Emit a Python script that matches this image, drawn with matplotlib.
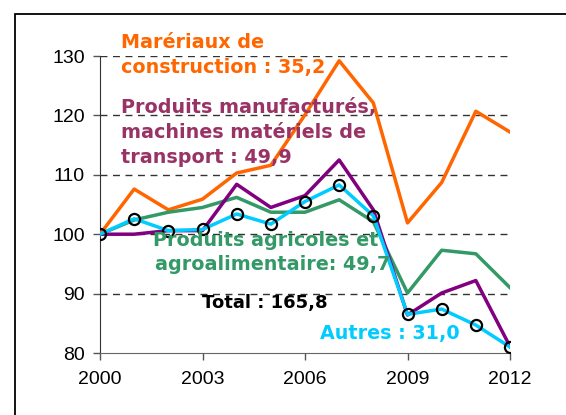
import numpy as np
import matplotlib
matplotlib.use('Agg')
import matplotlib.pyplot as plt
from matplotlib.patches import Rectangle

plt.rcParams['font.family'] = ['Liberation Sans', 'DejaVu Sans']

# data (index, 2000 = 100)
years = list(range(2000, 2013))
materiaux = [100, 107.6, 104.1, 105.9, 110.3, 111.6, 120.1, 129.2, 122.1, 101.9, 108.7, 120.7, 117.2]
manufactures = [100, 100, 100.6, 100.6, 108.4, 104.5, 106.5, 112.5, 104.1, 86.4, 90.1, 92.2, 81.1]
agricoles = [100, 102.4, 103.7, 104.5, 106.2, 103.7, 103.7, 105.8, 102.1, 90.1, 97.3, 96.7, 91.0]
autres = [100, 102.6, 100.6, 100.8, 103.4, 101.7, 105.5, 108.3, 103.1, 86.5, 87.4, 84.7, 81.0]
total = [100, 102.6, 100.6, 100.8, 103.4, 101.7, 105.5, 108.3, 103.1, 86.5, 87.4, 84.7, 81.0]

xticks = [2000, 2003, 2006, 2009, 2012]
yticks = [80, 90, 100, 110, 120, 130]

fig = plt.figure(figsize=(5.66, 4.15), dpi=100)
ax = fig.add_axes([100/566, 1-353/415, 410/566, 297/415])

# frame around the chart
fig.patches.append(Rectangle((15/566, -0.2), 1.2, 1.2 - 14/415,
                             transform=fig.transFigure, fill=False,
                             edgecolor='black', linewidth=1.3))

for yv in [90, 100, 110, 120, 130]:
    ax.axhline(yv, color='#333333', linestyle=(0, (5, 4)), linewidth=1.0, zorder=1)

lw = 2.5
ax.plot(years, materiaux, color='#FF6600', linewidth=lw, zorder=3)
ax.plot(years, agricoles, color='#339966', linewidth=lw, zorder=4)
ax.plot(years, manufactures, color='#800080', linewidth=lw, zorder=5)
ax.plot(years, autres, color='#00CCFF', linewidth=lw, zorder=6)
ax.plot(years, total, linestyle='none', marker='o', markersize=8,
        markerfacecolor='none', markeredgecolor='black', markeredgewidth=1.6, zorder=7)

ax.set_xlim(2000, 2012)
ax.set_ylim(80, 130)
ax.set_xticks(xticks)
ax.set_yticks(yticks)
ax.tick_params(axis='both', labelsize=14, length=5, width=1, color='#555555', direction='out')
ax.tick_params(axis='x', pad=8)
ax.tick_params(axis='y', pad=6)
for s in ['top', 'right']:
    ax.spines[s].set_visible(False)
ax.spines['left'].set_color('#333333')
ax.spines['bottom'].set_color('#666666')
ax.set_facecolor('none')

def note(x, y, txt, color, size=13.8):
    fig.text(x/566, 1 - y/415, txt, color=color, fontsize=size, fontweight='bold',
             family='DejaVu Sans', ha='left', va='center')

note(121, 42, 'Marériaux de', '#FF6600')
note(121, 67, 'construction : 35,2', '#FF6600')
note(121, 107, 'Produits manufacturés,', '#993366')
note(121, 133, 'machines matériels de', '#993366')
note(121, 157, 'transport : 49,9', '#993366')
note(153, 240, 'Produits agricoles et', '#339966')
note(155, 265, 'agroalimentaire: 49,7', '#339966')
note(202, 303, 'Total : 165,8', 'black', 13)
note(320, 334, 'Autres : 31,0', '#00CCFF')

fig.savefig('out.png', dpi=100)
